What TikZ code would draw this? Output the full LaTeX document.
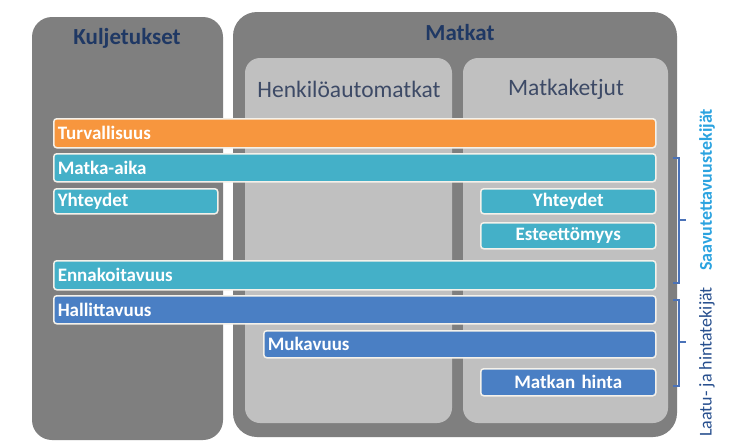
\documentclass[tikz,border=0pt]{standalone}
\usepackage{fontspec}
\setmainfont{Carlito}
\definecolor{panelgray}{HTML}{7F7F7F}
\definecolor{innergray}{HTML}{C0C0C0}
\definecolor{titleblue}{HTML}{1F3864}
\definecolor{subtitle}{HTML}{3D4A66}
\definecolor{safety}{HTML}{F7963E}
\definecolor{teal}{HTML}{44B0C8}
\definecolor{midblue}{HTML}{4A7FC4}
\definecolor{rim}{HTML}{F4F1EA}
\definecolor{bracecol}{HTML}{4A72B8}
\definecolor{access}{HTML}{2BA3E0}
\definecolor{quality}{HTML}{274F8E}
\tikzset{
  panel/.style={fill=panelgray,rounded corners=20pt},
  inner/.style={fill=innergray,rounded corners=15pt},
  bar/.style={draw=rim,line width=1.5pt,rounded corners=3pt,inner xsep=4pt,inner ysep=0pt,
    anchor=north west,text=white,font=\bfseries\fontsize{19}{19}\selectfont},
  brace/.style={draw=bracecol,line width=1.2pt}
}
\begin{document}
\begin{tikzpicture}[x=1pt,y=-1pt]
\useasboundingbox (0,0) rectangle (751,442);
\fill[white] (0,0) rectangle (751,442);
\clip (0,0) rectangle (751,442);
% panels
\fill[panel] (32,17) rectangle (223,440);
\fill[panel,rounded corners=24pt] (233,12) rectangle (677,437);
\fill[inner] (245,58) rectangle (452,423);
\fill[inner] (463,58) rectangle (668,423);
\node[text=titleblue,font=\bfseries\fontsize{23}{23}\selectfont] (kulj) at (127,38) {Kuljetukset};
\node[text=titleblue,font=\bfseries\fontsize{23}{23}\selectfont] (matk) at (460,33) {Matkat};
\node[text=subtitle,font=\fontsize{23.5}{23.5}\selectfont] (hlo) at (349,89) {Henkilöautomatkat};
\node[text=subtitle,font=\fontsize{23.5}{23.5}\selectfont] (ketj) at (566,89) {Matkaketjut};
% bars
\node[bar,fill=safety,text width=594pt,minimum height=29pt,align=left] (turv) at (53,118) {Turvallisuus};
\node[bar,fill=teal,text width=594pt,minimum height=28pt,align=left] (aika) at (53,153) {Matka-aika};
\node[bar,fill=teal,text width=156pt,minimum height=25pt,align=left] (yhtk) at (53,188) {Yhteydet};
\node[bar,fill=teal,text width=167pt,minimum height=25pt,align=center] (yhtm) at (480,188) {Yhteydet};
\node[bar,fill=teal,text width=167pt,minimum height=26pt,align=center] (este) at (480,222) {Esteettömyys};
\node[bar,fill=teal,text width=594pt,minimum height=29pt,align=left] (enna) at (53,260) {Ennakoitavuus};
\node[bar,fill=midblue,text width=594pt,minimum height=28pt,align=left] (hall) at (53,295) {Hallittavuus};
\node[bar,fill=midblue,text width=384pt,minimum height=27pt,align=left] (muka) at (263,330) {Mukavuus};
\node[bar,fill=midblue,text width=167pt,minimum height=27pt,align=center] (hinta) at (480,368) {Matkan hinta};
% braces
\draw[brace] (673,158) -- (679,158) -- (679,283) -- (673,283);
\draw[brace] (679,220) -- (686,220);
\draw[brace] (673,300) -- (679,300) -- (679,386) -- (673,386);
\draw[brace] (679,342) -- (686,342);
\node[rotate=90,text=access,font=\bfseries\fontsize{18}{18}\selectfont] (saav) at (707,190) {Saavutettavuustekijät};
\node[rotate=90,text=quality,font=\fontsize{18}{18}\selectfont] (laatu) at (707,362) {Laatu- ja hintatekijät};
\end{tikzpicture}
\end{document}
